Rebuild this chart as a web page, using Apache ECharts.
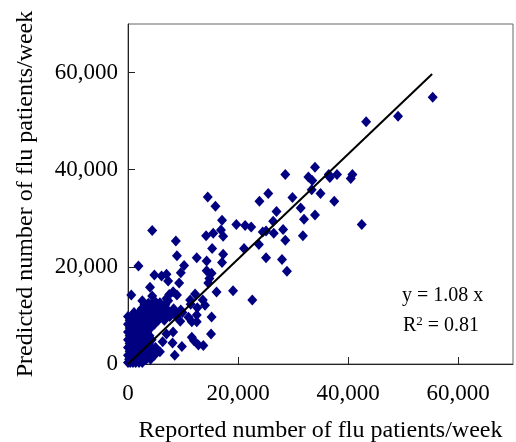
<!DOCTYPE html>
<html>
<head>
<meta charset="utf-8">
<script src="https://cdn.jsdelivr.net/npm/echarts@6/dist/echarts.min.js"></script>
<style>
  html, body { margin: 0; padding: 0; background: #fff; }
  #chart { width: 516px; height: 442px; }
</style>
</head>
<body>
<div id="chart"></div>
<script>
// weeks away from the origin, [reported, predicted]
var spreadPoints = [
  [55400, 54900], [49100, 51000], [43300, 49900], [34000, 40500], [28600, 39000],
  [32800, 38500], [33500, 37800], [36500, 39000], [38000, 39000], [36700, 38400],
  [40800, 39000], [40500, 38200], [33400, 35900], [35000, 35100], [25500, 35100],
  [23900, 33500], [29900, 34300], [37500, 33500], [14500, 34400], [15900, 32500],
  [27000, 31400], [31400, 32100], [26400, 29400], [32000, 29800], [34000, 30700],
  [42500, 28700], [17100, 29600], [4400, 27500], [8700, 25300], [14200, 26400],
  [15500, 26900], [16900, 27600], [17300, 26300], [19700, 28700], [21300, 28500],
  [22400, 28200], [24500, 27200], [25100, 27400], [26500, 26900], [28200, 27700],
  [28600, 25500], [31800, 26400], [15300, 23800], [21100, 23800], [23800, 24600],
  [1900, 20200], [8900, 22300], [12500, 21900], [17300, 22600], [17100, 20900],
  [14300, 21200], [25100, 21900], [28000, 21500], [28900, 19100], [10200, 20300],
  [9600, 18800], [4800, 18300], [6100, 18100], [7000, 18500], [7300, 17100],
  [14300, 19200], [15200, 18700], [14800, 17600], [14600, 16700], [9300, 16700],
  [4000, 15800], [600, 14200], [4400, 14000], [8900, 14200], [7000, 13500],
  [8200, 14900], [12200, 14400], [16100, 14800], [19100, 15100], [22600, 13200],
  [13600, 13200], [14000, 12100], [12600, 11600], [11400, 12300], [12500, 10100],
  [11600, 8700], [9600, 11100], [9500, 8800], [15200, 9700], [8200, 6600],
  [11600, 5500], [15100, 6200], [13700, 3800], [8100, 4300], [9800, 3600],
  [8500, 1800], [5800, 2500], [400, 9400], [3700, 12500], [5800, 12600],
  [7500, 14300], [11300, 13200], [11000, 9600], [12000, 4800], [12800, 3900],
  [12500, 8700], [6300, 4600], [7000, 6200]
];

// dense block near the origin, read row by row: [predicted, [reported...]]
var clusterRows = [
  [300,   [0, 400, 900, 1400, 2000, 2600]],
  [1000,  [200, 700, 1300, 1900, 2600, 3300, 4100]],
  [1800,  [0, 500, 1100, 1700, 2400, 3100, 3900, 4800]],
  [2600,  [300, 900, 1500, 2200, 2900, 3700, 4500]],
  [3400,  [0, 600, 1200, 1900, 2600, 3400, 4200, 5000]],
  [4200,  [300, 900, 1600, 2300, 3000, 3800]],
  [5000,  [0, 600, 1200, 1900, 2600, 3400, 4300]],
  [5800,  [300, 900, 1500, 2200, 3000, 3900]],
  [6600,  [0, 600, 1200, 1900, 2700, 3500]],
  [7400,  [300, 900, 1600, 2400, 3200, 4100]],
  [8200,  [0, 600, 1300, 2100, 2900, 3800, 4800]],
  [9000,  [300, 1000, 1800, 2600, 3500, 4500, 5500, 6600]],
  [9800,  [0, 700, 1500, 2400, 3300, 4300, 5300, 6400, 7600, 8800]],
  [10600, [1100, 2000, 2900, 3900, 5000, 6100, 7300, 8500, 9900]],
  [11400, [2500, 3500, 4600, 5800, 7000, 8300]],
  [12200, [3000, 4200, 5500, 6800]],
  [13000, [2600, 4800, 7300]]
];

var fitLine = [[0, 0], [55300, 59700]];
var axisTicks = [0, 20000, 40000, 60000];

var clusterPoints = [];
clusterRows.forEach(function (row) {
  row[1].forEach(function (x) { clusterPoints.push([x, row[0]]); });
});

var chart = echarts.init(document.getElementById('chart'));
var serif = 'Liberation Serif';

function fmt(v) {
  return axisTicks.indexOf(v) >= 0 ? v.toLocaleString('en-US') : '';
}

var option = {
  backgroundColor: '#fff',
  animation: false,
  grid: {
    left: 128, top: 24, right: 3, bottom: 78,
    outerBoundsMode: 'none', containLabel: false,
    show: true, borderColor: '#666', borderWidth: 1
  },
  xAxis: {
    type: 'value', min: 0, max: 70000, interval: 20000,
    name: 'Reported number of flu patients/week',
    nameLocation: 'middle', nameGap: 55,
    nameTextStyle: { fontFamily: serif, fontSize: 24, color: '#000' },
    axisLine: { show: true, lineStyle: { color: '#222', width: 1 } },
    axisTick: { show: true, inside: true, length: 7, lineStyle: { color: '#222' } },
    axisLabel: { formatter: fmt, showMaxLabel: false, margin: 18,
      fontFamily: serif, fontSize: 23, color: '#000' },
    splitLine: { show: false }
  },
  yAxis: {
    type: 'value', min: 0, max: 70000, interval: 20000,
    name: 'Predicted number of flu patients/week',
    nameLocation: 'middle', nameGap: 90,
    nameTextStyle: { fontFamily: serif, fontSize: 24, color: '#000' },
    axisLine: { show: true, lineStyle: { color: '#222', width: 1 } },
    axisTick: { show: true, inside: true, length: 7, lineStyle: { color: '#222' } },
    axisLabel: { formatter: fmt, showMaxLabel: false, margin: 10,
      fontFamily: serif, fontSize: 23, color: '#000' },
    splitLine: { show: false }
  },
  series: [
    {
      type: 'scatter', data: clusterPoints, symbol: 'diamond', symbolSize: [10, 11],
      itemStyle: { color: '#000080', opacity: 1 }, clip: false, z: 2
    },
    {
      type: 'scatter', data: spreadPoints, symbol: 'diamond', symbolSize: [10, 11],
      itemStyle: { color: '#000080', opacity: 1 }, clip: false, z: 2
    },
    {
      type: 'line', data: fitLine, showSymbol: false, symbol: 'none',
      lineStyle: { color: '#000', width: 2 }, z: 5
    }
  ],
  graphic: [
    {
      type: 'text', left: 402, top: 286,
      style: { text: 'y = 1.08 x', font: '20px "Liberation Serif"', fill: '#000' }
    },
    {
      type: 'text', left: 403, top: 315,
      style: {
        text: 'R{sup|2} = 0.81',
        font: '20px "Liberation Serif"', fill: '#000',
        rich: { sup: { fontSize: 13, fontFamily: serif, verticalAlign: 'top', padding: [0, 0, 8, 0] } }
      }
    }
  ]
};

chart.setOption(option);
</script>
</body>
</html>
